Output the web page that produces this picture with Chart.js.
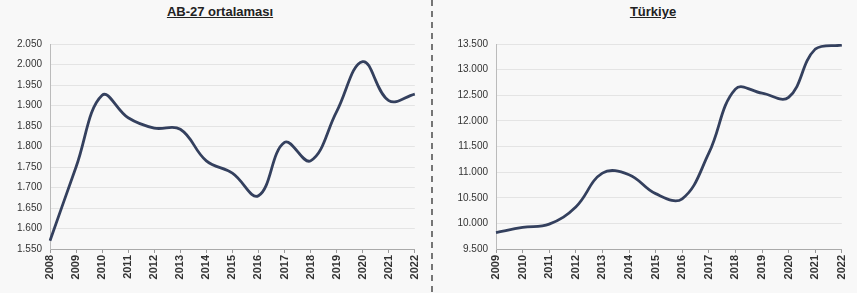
<!DOCTYPE html>
<html>
<head>
<meta charset="utf-8">
<script src="https://cdn.jsdelivr.net/npm/chart.js@4"></script>
<style>
  body { margin: 0; background: #f8f8f8; width: 857px; height: 293px; overflow: hidden; position: relative; font-family: "Liberation Sans", Arial, sans-serif; }
  .title { position: absolute; top: 4px; text-align: center; font-weight: bold; font-size: 13px; color: #222; text-decoration: underline; }
  canvas { position: absolute; top: 0; }
  #sep { position: absolute; left: 429px; top: 0; }
</style>
</head>
<body>
<div class="title" style="left:0;width:440px">AB-27 ortalaması</div>
<div class="title" style="left:432px;width:442px">Türkiye</div>
<canvas id="abChart" width="430" height="293" style="left:0"></canvas>
<svg id="sep" width="6" height="293"><line x1="3" y1="0" x2="3" y2="293" stroke="#555" stroke-width="1.6" stroke-dasharray="6,5"/></svg>
<canvas id="trChart" width="425" height="293" style="left:432px"></canvas>
<script>
// AB-27 ortalaması
const abYears = ['2008','2009','2010','2011','2012','2013','2014','2015','2016','2017','2018','2019','2020','2021','2022'];
const abValues = [1570, 1750, 1925, 1870, 1845, 1842, 1765, 1735, 1680, 1810, 1765, 1885, 2007, 1912, 1928];

// Türkiye
const trYears = ['2009','2010','2011','2012','2013','2014','2015','2016','2017','2018','2019','2020','2021','2022'];
const trValues = [9820, 9920, 9985, 10320, 10980, 10950, 10580, 10480, 11370, 12620, 12540, 12460, 13400, 13480];

const lineColor = '#34405e';

// binlik ayraç nokta ile
function fmt(v) {
    return Math.round(v).toString().replace(/\B(?=(\d{3})+(?!\d))/g, '.');
}

function makeChart(id, labels, values, yMin, yMax, step, axisWidth, padRight) {
    const ctx = document.getElementById(id).getContext('2d');
    return new Chart(ctx, {
        type: 'line',
        data: {
            labels: labels,
            datasets: [{
                data: values,
                borderColor: lineColor,
                borderWidth: 2.8,
                pointRadius: 0,
                tension: 0.4,
                fill: false
            }]
        },
        options: {
            responsive: false,
            animation: false,
            layout: { padding: { top: 44, right: padRight, left: 0, bottom: 0 } },
            plugins: { legend: { display: false }, tooltip: { enabled: false } },
            scales: {
                x: {
                    offset: false,
                    grid: { drawOnChartArea: false, color: '#999', tickLength: 4 },
                    border: { color: '#aaa' },
                    ticks: {
                        autoSkip: false, minRotation: 90, maxRotation: 90,
                        color: '#333', padding: 2,
                        font: { family: 'Liberation Sans', size: 11, weight: 'bold' }
                    },
                    afterFit: s => { s.height = 44; }
                },
                y: {
                    min: yMin, max: yMax,
                    grid: { color: '#e4e4e4', drawTicks: false },
                    border: { color: '#bbb' },
                    ticks: {
                        stepSize: step, padding: 8, color: '#333',
                        font: { family: 'Liberation Sans', size: 10 },
                        callback: v => fmt(v)
                    },
                    afterFit: s => { s.width = axisWidth; }
                }
            }
        }
    });
}

makeChart('abChart', abYears, abValues, 1550, 2050, 50, 50, 15);
makeChart('trChart', trYears, trValues, 9500, 13500, 500, 64, 6);
</script>
</body>
</html>
